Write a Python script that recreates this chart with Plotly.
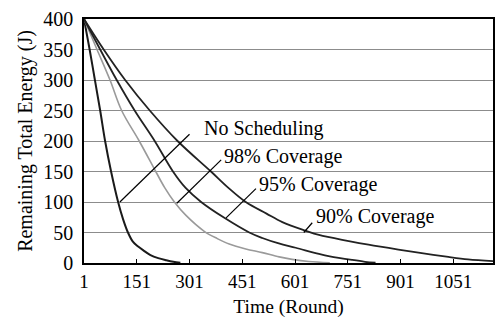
import plotly.graph_objects as go

# Data
no_sched_x = [1, 17, 32, 47, 61, 78, 98, 112, 126, 140, 155, 169, 190, 212, 235, 255, 275]
no_sched_y = [400, 350, 300, 250, 200, 150, 100, 72, 50, 35, 27, 21, 13, 8, 4.5, 2, 0.5]

cov98_x = [1, 38, 75, 108, 158, 205, 230, 258, 291, 343, 380, 414, 461, 508, 556, 593, 640, 700]
cov98_y = [400, 350, 300, 250, 200, 150, 124, 100, 78, 52, 40, 31, 23, 17, 10, 6, 2.5, 0.5]

cov95_x = [1, 47, 94, 145, 202, 254, 290, 334, 400, 471, 508, 555, 603, 669, 700, 763, 800, 830]
cov95_y = [400, 350, 300, 250, 200, 150, 123, 100, 74, 50, 41, 32, 25, 15, 11, 5, 2, 0.5]

cov90_x = [1, 57, 118, 188, 267, 362, 410, 461, 520, 565, 631, 669, 754, 810, 895, 952, 1037, 1093, 1164]
cov90_y = [400, 350, 300, 250, 200, 150, 124, 100, 81, 67, 53, 46, 36, 30, 22, 17, 10, 6, 3]

x_ticks = [1, 151, 301, 451, 601, 751, 901, 1051]
y_ticks = [0, 50, 100, 150, 200, 250, 300, 350, 400]

labels = ["No Scheduling", "98% Coverage", "95% Coverage", "90% Coverage"]
# label anchor (text left/middle) and pointer line (curve point -> text)
label_pos = [(336, 221), (392, 174), (492, 128), (654, 76)]
pointer = [((103, 100), (301, 211)), ((265, 98), (391, 169)),
           ((405, 74), (490, 122)), ((626, 50), (650, 66))]

FONT = "Liberation Serif"

fig = go.Figure()
series = [
    (no_sched_x, no_sched_y, "#1a1a1a", 2.0),
    (cov98_x, cov98_y, "#9a9a9a", 1.6),
    (cov95_x, cov95_y, "#222222", 1.8),
    (cov90_x, cov90_y, "#222222", 1.8),
]
for (xs, ys, col, w), name in zip(series, labels):
    fig.add_trace(go.Scatter(x=xs, y=ys, mode="lines", name=name,
                             line=dict(color=col, width=w, shape="spline", smoothing=1.0),
                             showlegend=False))

for (p0, p1) in pointer:
    fig.add_shape(type="line", x0=p0[0], y0=p0[1], x1=p1[0], y1=p1[1],
                  xref="x", yref="y", line=dict(color="black", width=1.2))

for txt, (lx, ly) in zip(labels, label_pos):
    fig.add_annotation(x=lx, y=ly, text=txt, showarrow=False, xanchor="left",
                       yanchor="middle", font=dict(family=FONT, size=20, color="black"))

fig.update_layout(
    width=503, height=324,
    margin=dict(l=84, r=8, t=12, b=61),
    paper_bgcolor="white", plot_bgcolor="white",
    font=dict(family=FONT, size=19, color="black"),
)
fig.update_xaxes(
    range=[1, 1164], tickvals=x_ticks, ticktext=[str(v) for v in x_ticks],
    ticks="inside", ticklen=4, tickcolor="black", tickwidth=1,
    showline=True, linecolor="black", linewidth=1.5, mirror=True,
    showgrid=False, zeroline=False,
    tickfont=dict(family=FONT, size=19),
    title=dict(text="Time (Round)", font=dict(family=FONT, size=19.5), standoff=9),
)
fig.update_yaxes(
    range=[0, 400], tickvals=y_ticks, ticks="",
    showline=True, linecolor="black", linewidth=1.5, mirror=True,
    showgrid=True, gridcolor="#8c8c8c", gridwidth=1, zeroline=False,
    tickfont=dict(family=FONT, size=20), ticklabelstandoff=5,
    title=dict(text="Remaining Total Energy (J)", font=dict(family=FONT, size=20), standoff=5),
)

fig.write_html("out.html")
